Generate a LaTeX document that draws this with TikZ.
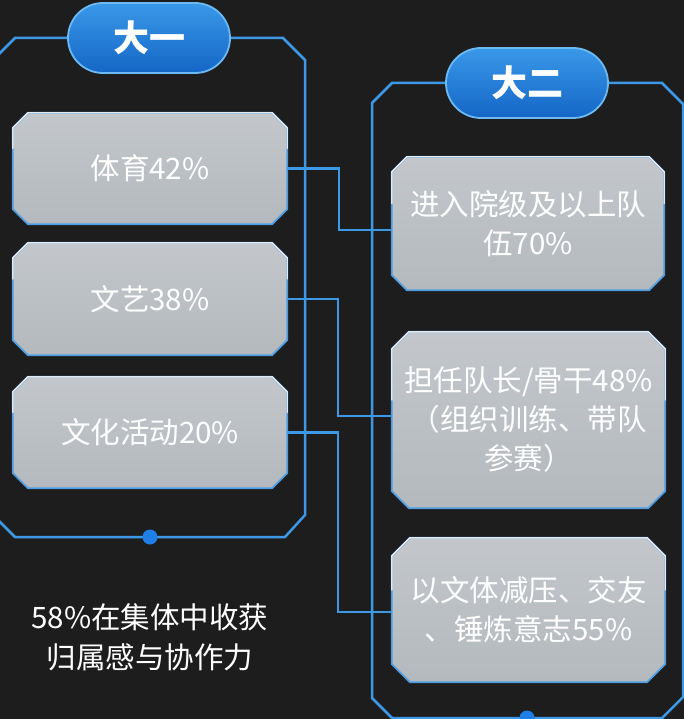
\documentclass[tikz,border=0pt]{standalone}
\usepackage{fontspec}
\usetikzlibrary{calc,backgrounds}
\newfontfamily\cjk{Noto Sans CJK SC}
\definecolor{bgc}{HTML}{1D1D1E}
\definecolor{framec}{HTML}{3D98E6}
\definecolor{dotc}{HTML}{1E80E6}
\definecolor{boxtop}{HTML}{C3C7CB}
\definecolor{boxbot}{HTML}{B4B9BE}
\definecolor{boxedge}{HTML}{4E9CE2}
\definecolor{boxhl}{HTML}{E6EAEE}
\definecolor{pilltop}{HTML}{3A98E8}
\definecolor{pillbot}{HTML}{1466C6}
\definecolor{pilledge}{HTML}{6DBAF2}
\tikzset{
  frameline/.style={draw=framec, line width=2.5pt, line join=miter},
  conn/.style={draw=framec, line width=2.5pt},
  dotmark/.style={fill=dotc},
  pill/.style={rectangle, rounded corners=35pt, minimum width=162pt, minimum height=70pt,
    top color=pilltop, bottom color=pillbot, draw=pilledge, line width=1.8pt,
    text=white, font=\cjk\bfseries\fontsize{36}{40}\selectfont, inner sep=0pt},
  boxnode/.style={rectangle, inner sep=0pt, text=white, align=center,
    font=\cjk\fontsize{29.5}{39}\selectfont},
  boxfill/.style={top color=boxtop, bottom color=boxbot},
  boxline/.style={draw=boxedge, line width=1.8pt, line join=round},
  boxhigh/.style={draw=boxhl, line width=1.4pt, line join=round, line cap=round},
  note/.style={text=white, align=center, font=\cjk\fontsize{29.5}{40}\selectfont, inner sep=0pt}
}
\newcommand{\octbox}[2]{%
  \begin{scope}[on background layer]
    \path[boxfill]
      ($(#1.north west)+(#2,0)$) -- ($(#1.north east)+(-#2,0)$) --
      ($(#1.north east)+(0,#2)$) -- ($(#1.south east)+(0,-#2)$) --
      ($(#1.south east)+(-#2,0)$) -- ($(#1.south west)+(#2,0)$) --
      ($(#1.south west)+(0,-#2)$) -- ($(#1.north west)+(0,#2)$) -- cycle;
    \draw[boxline]
      ($(#1.north west)+(#2,0)$) -- ($(#1.north east)+(-#2,0)$) --
      ($(#1.north east)+(0,#2)$) -- ($(#1.south east)+(0,-#2)$) --
      ($(#1.south east)+(-#2,0)$) -- ($(#1.south west)+(#2,0)$) --
      ($(#1.south west)+(0,-#2)$) -- ($(#1.north west)+(0,#2)$) -- cycle;
    \draw[boxhigh]
      ($(#1.west)+(0,-20)$) -- ($(#1.north west)+(0,#2)$) --
      ($(#1.north west)+(#2,0)$) -- ($(#1.north east)+(-#2,0)$) --
      ($(#1.north east)+(0,#2)$) -- ($(#1.east)+(0,-20)$);
  \end{scope}}
\begin{document}
\begin{tikzpicture}[x=1pt, y=-1pt]
  \begin{scope}[on background layer]
    \fill[bgc] (0,0) rectangle (684,719);
  \end{scope}
  \useasboundingbox (0,0) rectangle (684,719);
  \begin{scope}
    \clip (0,0) rectangle (684,719);
    % frames
    \draw[frameline] (-3,56) -- (15,38) -- (283,38) -- (305,60) -- (305,515)
      -- (285,537) -- (15,537) -- (-3,519) -- cycle;
    \draw[frameline] (372,103) -- (392,83) -- (662,83) -- (683,104) -- (683,697)
      -- (662,718) -- (392,718) -- (372,698) -- cycle;
    \fill[dotmark] (150,537) circle (7.5);
    \fill[dotmark] (527,718) circle (7.5);
  \end{scope}

  % pills
  \node[pill] (p1) at (149,38) {大一};
  \node[pill] (p2) at (527,83) {大二};

  % left boxes
  \node[boxnode, minimum width=274pt, minimum height=111pt] (b1) at (150,168.5) {体育42\%};
  \octbox{b1}{15}
  \node[boxnode, minimum width=274pt, minimum height=112pt] (b2) at (150,299) {文艺38\%};
  \octbox{b2}{15}
  \node[boxnode, minimum width=274pt, minimum height=111pt] (b3) at (150,432.5) {文化活动20\%};
  \octbox{b3}{15}

  % right boxes
  \node[boxnode, minimum width=272pt, minimum height=133pt] (bA) at (528,223.5) {进入院级及以上队\\伍70\%};
  \octbox{bA}{15}
  \node[boxnode, minimum width=273pt, minimum height=176pt] (bB) at (528.5,420) {担任队长/骨干48\%\\（组织训练、带队\\参赛）};
  \octbox{bB}{17}
  \node[boxnode, minimum width=273pt, minimum height=144pt] (bC) at (528.5,610) {以文体减压、交友\\、锤炼意志55\%};
  \octbox{bC}{18}

  % connectors
  \draw[conn] (b1.east) -- ++(52,0) |- ($(bA.west)+(0,6.5)$);
  \draw[conn] (b2.east) -- ++(51,0) |- ($(bB.west)+(0,-4)$);
  \draw[conn] (b3.east) -- ++(51,0) |- ($(bC.west)+(0,2)$);

  % note
  \node[note] (n1) at (150,637) {58\%在集体中收获\\归属感与协作力};
\end{tikzpicture}
\end{document}
